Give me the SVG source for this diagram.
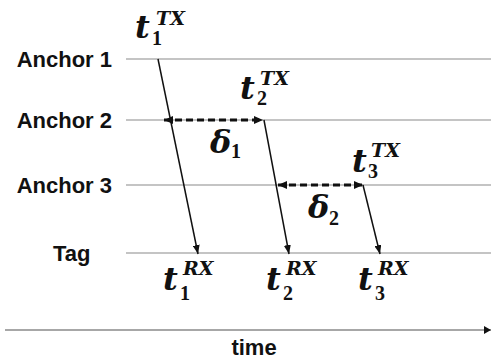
<svg xmlns="http://www.w3.org/2000/svg" width="491" height="360" viewBox="0 0 491 360">
<style>
.lane{stroke:#8a8a8a;stroke-width:1.2;fill:none}
.lbl{font-family:"Liberation Sans",Arial,sans-serif;font-weight:bold;font-size:22px;fill:#111}
.msg{stroke:#111;stroke-width:1.5;fill:none;marker-end:url(#ah)}
.dash{stroke:#111;stroke-width:3;stroke-dasharray:7 4;fill:none;marker-start:url(#dh);marker-end:url(#dh)}
.mt{font-family:"DejaVu Serif",serif;font-weight:bold;font-style:italic;font-size:32px;fill:#111}
.sp{font-family:"DejaVu Serif",serif;font-weight:bold;font-style:italic;font-size:19px;fill:#111}
.sb{font-family:"Liberation Serif",serif;font-weight:bold;font-size:20px;fill:#111}
</style>
<defs>
<marker id="ah" markerUnits="userSpaceOnUse" markerWidth="9" markerHeight="7" refX="9" refY="3.5" orient="auto"><path d="M0,0 L9,3.5 L0,7 z" fill="#111"/></marker>
<marker id="dh" markerUnits="userSpaceOnUse" markerWidth="9" markerHeight="8" refX="9" refY="4" orient="auto-start-reverse"><path d="M0,0 L9,4 L0,8 z" fill="#111"/></marker>
<marker id="th" markerUnits="userSpaceOnUse" markerWidth="7" markerHeight="8" refX="7" refY="4" orient="auto"><path d="M0,0 L7,4 L0,8 z" fill="#111"/></marker>
</defs>
<g id="anchor1"><line class="lane" x1="126" y1="59" x2="491" y2="59"/><text class="lbl" x="112" y="67" text-anchor="end">Anchor 1</text></g>
<g id="anchor2"><line class="lane" x1="126" y1="120" x2="491" y2="120"/><text class="lbl" x="112" y="128" text-anchor="end">Anchor 2</text></g>
<g id="anchor3"><line class="lane" x1="126" y1="185" x2="491" y2="185"/><text class="lbl" x="112" y="193" text-anchor="end">Anchor 3</text></g>
<g id="tag"><line class="lane" x1="126" y1="253" x2="491" y2="253"/><text class="lbl" x="53" y="261">Tag</text></g>
<g id="timeaxis"><line x1="5" y1="330" x2="491" y2="330" stroke="#8a8a8a" stroke-width="1.5" marker-end="url(#th)"/><text class="lbl" x="254" y="355" text-anchor="middle">time</text></g>
<g id="connectors">
<line class="msg" x1="158" y1="59" x2="198" y2="254"/>
<line class="msg" x1="264" y1="120" x2="289" y2="254"/>
<line class="msg" x1="363" y1="185" x2="380" y2="254"/>
<line class="dash" x1="164" y1="120" x2="263" y2="120"/>
<line class="dash" x1="278" y1="185" x2="363" y2="185"/>
</g>
<g id="t1tx"><text class="mt" x="135" y="38">t</text><text class="sb" x="152" y="45">1</text><text class="sp" x="156" y="25">TX</text></g>
<g id="t2tx"><text class="mt" x="240" y="99">t</text><text class="sb" x="257" y="105">2</text><text class="sp" x="260" y="85">TX</text></g>
<g id="t3tx"><text class="mt" x="352" y="172">t</text><text class="sb" x="368" y="178">3</text><text class="sp" x="371" y="157">TX</text></g>
<g id="t1rx"><text class="mt" x="163" y="290">t</text><text class="sb" x="180" y="300">1</text><text class="sp" x="183" y="275">RX</text></g>
<g id="t2rx"><text class="mt" x="266" y="290">t</text><text class="sb" x="283" y="300">2</text><text class="sp" x="286" y="275">RX</text></g>
<g id="t3rx"><text class="mt" x="358" y="290">t</text><text class="sb" x="375" y="300">3</text><text class="sp" x="378" y="275">RX</text></g>
<g id="d1"><text class="mt" x="210" y="153" font-size="28">δ</text><text class="sb" x="231" y="158">1</text></g>
<g id="d2"><text class="mt" x="308" y="218" font-size="28">δ</text><text class="sb" x="329" y="225">2</text></g>
</svg>
